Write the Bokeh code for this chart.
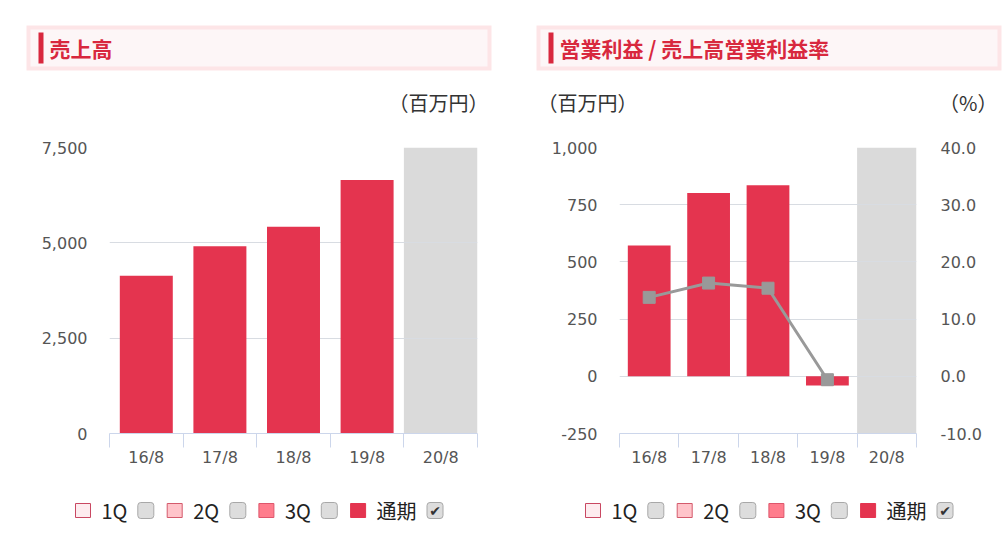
from bokeh.plotting import figure
from bokeh.layouts import column, row
from bokeh.models import Range1d, LinearAxis, FixedTicker, NumeralTickFormatter
from bokeh.embed import file_html
from bokeh.resources import INLINE
from bokeh.core.properties import value

# ---------------- data ----------------
categories = ["16/8", "17/8", "18/8", "19/8", "20/8"]
sales = [4137, 4913, 5422, 6645]            # 売上高 (百万円), 20/8 not yet reported
op_income = [572, 801, 835, -40]            # 営業利益 (百万円)
op_margin = [13.8, 16.3, 15.4, -0.6]        # 売上高営業利益率 (%)
forecast_category = "20/8"
sales_ticks = [0, 2500, 5000, 7500]
income_ticks = [-250, 0, 250, 500, 750, 1000]
margin_ticks = [-10, 0, 10, 20, 30, 40]
legend_labels = ["1Q", "2Q", "3Q", "通期"]
legend_checked = [False, False, False, True]
title_left = "売上高"
title_right = "営業利益 / 売上高営業利益率"
unit_yen = "（百万円）"
unit_pct = "（%）"

# ---------------- styles ----------------
BAR = "#e4344f"
BAND = "#dadada"
GRID = "#d8dce2"
AXIS = "#ccd6eb"
TICK_TXT = "#555555"
RED = "#d8283e"
LINE = "#999999"
TICK_FONT = "DejaVu Sans"
JP_FONT = "Noto Sans CJK JP"
sq_fill = ["#fdecef", "#ffc4ca", "#ff7d8d", "#e4344f"]
sq_line = ["#c94862", "#d45a6c", "#df566c", "#e4344f"]

idx = list(range(len(categories)))
f_idx = categories.index(forecast_category)


def style_y(ax, standoff):
    ax.axis_line_color = None
    ax.major_tick_line_color = None
    ax.minor_tick_line_color = None
    ax.major_tick_out = 0
    ax.major_tick_in = 0
    ax.minor_tick_out = 0
    ax.major_label_standoff = standoff
    ax.major_label_text_font = TICK_FONT
    ax.major_label_text_font_size = "16px"
    ax.major_label_text_color = TICK_TXT


def chart(width, b_left, b_right, y0, y1, yticks):
    p = figure(width=width, height=362, x_range=Range1d(-0.5, len(categories) - 0.5),
               y_range=Range1d(y0, y1), output_backend="svg", toolbar_location=None,
               title=None, min_border_left=b_left, min_border_right=b_right,
               min_border_top=19, min_border_bottom=57)
    p.outline_line_color = None
    p.background_fill_color = "white"
    p.border_fill_color = "white"
    xa = p.xaxis[0]
    xa.ticker = FixedTicker(ticks=idx, minor_ticks=[i - 0.5 for i in range(len(categories) + 1)])
    xa.major_label_overrides = {i: c for i, c in zip(idx, categories)}
    xa.axis_line_color = AXIS
    xa.major_tick_line_color = None
    xa.major_tick_out = 0
    xa.major_tick_in = 0
    xa.minor_tick_line_color = AXIS
    xa.minor_tick_out = 14
    xa.minor_tick_in = 0
    xa.major_label_standoff = 0
    xa.major_label_text_font = TICK_FONT
    xa.major_label_text_font_size = "16px"
    xa.major_label_text_color = TICK_TXT
    ya = p.yaxis[0]
    ya.ticker = FixedTicker(ticks=yticks)
    ya.formatter = NumeralTickFormatter(format="0,0")
    style_y(ya, 22)
    p.xgrid.visible = False
    p.ygrid.ticker = FixedTicker(ticks=yticks)
    p.ygrid.grid_line_color = GRID
    # forecast band over the 20/8 category
    p.quad(left=[f_idx - 0.5], right=[f_idx + 0.5], bottom=[y0], top=[y1],
           fill_color=BAND, line_color=None, level="image")
    return p


# left chart: 売上高
pl = chart(502, 109, 25, 0, 7500, sales_ticks)
pl.vbar(x=idx[:len(sales)], top=sales, width=0.72, fill_color=BAR, line_color=None)

# right chart: 営業利益 / 売上高営業利益率
pr = chart(503, 117, 89, -250, 1000, income_ticks)
pr.extra_y_ranges = {"pct": Range1d(-10, 40)}
ra = LinearAxis(y_range_name="pct", ticker=FixedTicker(ticks=margin_ticks),
                formatter=NumeralTickFormatter(format="0.0"))
style_y(ra, 24)
pr.add_layout(ra, "right")
pr.vbar(x=idx[:len(op_income)], top=op_income, width=0.72, fill_color=BAR, line_color=None)
pr.line(x=idx[:len(op_margin)], y=op_margin, y_range_name="pct", line_color=LINE, line_width=3)
pr.scatter(x=idx[:len(op_margin)], y=op_margin, y_range_name="pct", marker="square",
           size=12, fill_color=LINE, line_color=LINE)


# ---------------- decorations (page pixel coordinates) ----------------
def deco(h, y_top, y_bottom):
    d = figure(width=1005, height=h, x_range=Range1d(0, 1005), y_range=Range1d(y_bottom, y_top),
               output_backend="svg", toolbar_location=None, title=None, min_border=0,
               x_axis_type=None, y_axis_type=None)
    d.outline_line_color = None
    d.xgrid.visible = False
    d.ygrid.visible = False
    return d


top = deco(128, 0, 128)
for bx, text in [(26, title_left), (536, title_right)]:
    top.quad(left=[bx], right=[bx + 465], top=[25], bottom=[70], fill_color="#fde5e7", line_color=None)
    top.quad(left=[bx + 4], right=[bx + 461], top=[29], bottom=[66], fill_color="#fdf6f7", line_color=None)
    top.quad(left=[bx + 12], right=[bx + 17], top=[32], bottom=[63], fill_color=RED, line_color=None)
    top.text(x=[bx + 23], y=[47], text=[text], text_font=value(JP_FONT), text_font_style="bold",
             text_font_size="21px", text_color=RED, text_align="left", text_baseline="middle")
top.text(x=[488], y=[102], text=[unit_yen], text_font=value(JP_FONT), text_font_size="20px",
         text_color="#333333", text_align="right", text_baseline="middle")
top.text(x=[537], y=[102], text=[unit_yen], text_font=value(JP_FONT), text_font_size="20px",
         text_color="#333333", text_align="left", text_baseline="middle")
top.text(x=[997], y=[102], text=[unit_pct], text_font=value(JP_FONT), text_font_size="20px",
         text_color="#333333", text_align="right", text_baseline="middle")

leg = deco(43, 490, 533)
cb_offsets = [62.3, 62.6, 62.4, 76.4]
for base in (75, 585):
    xs = [base + i * 91.7 for i in range(len(legend_labels))]
    leg.quad(left=xs, right=[x + 15 for x in xs], top=[503] * 4, bottom=[517] * 4,
             fill_color=sq_fill, line_color=sq_line, line_width=1)
    leg.text(x=[x + 26 for x in xs], y=[510] * 4, text=legend_labels, text_font=value(JP_FONT),
             text_font_size="20px", text_color="#222222", text_align="left", text_baseline="middle")
    cbl = [x + o for x, o in zip(xs, cb_offsets)]
    leg.quad(left=cbl, right=[c + 16 for c in cbl], top=[502] * 4, bottom=[518] * 4,
             fill_color="#dddddd", line_color="#a8a8a8", line_width=1, border_radius=3)
    leg.text(x=[c + 8 for c, k in zip(cbl, legend_checked) if k], y=[510.5] * sum(legend_checked),
             text=["✔"] * sum(legend_checked), text_font=value("DejaVu Sans"),
             text_font_size="14px", text_color="#333333", text_align="center", text_baseline="middle")

layout = column(top, row(pl, pr), leg)
open("out.html", "w").write(file_html(layout, INLINE))
